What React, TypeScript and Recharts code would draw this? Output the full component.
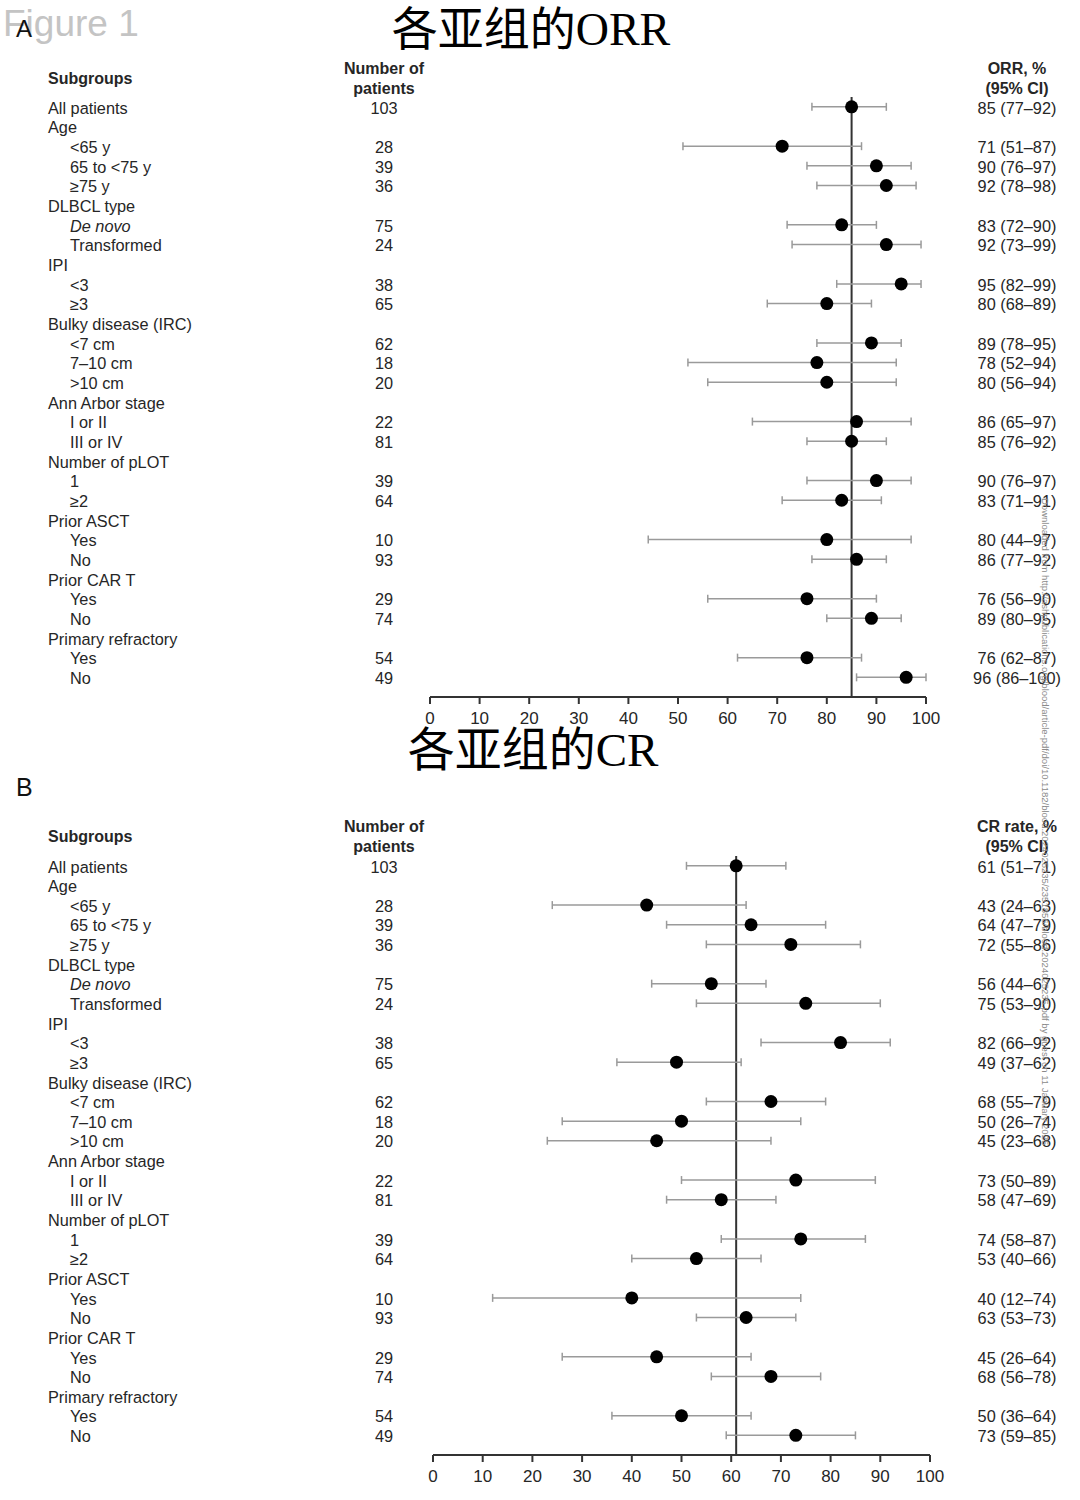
import { ScatterChart, Scatter, XAxis, YAxis, ErrorBar, ReferenceLine } from 'recharts';

// row labels shared by both panels
const rowLabels = [
  'All patients', 'Age', '<65 y', '65 to <75 y', '≥75 y', 'DLBCL type', 'De novo', 'Transformed',
  'IPI', '<3', '≥3', 'Bulky disease (IRC)', '<7 cm', '7–10 cm', '>10 cm', 'Ann Arbor stage',
  'I or II', 'III or IV', 'Number of pLOT', '1', '≥2', 'Prior ASCT', 'Yes', 'No',
  'Prior CAR T', 'Yes', 'No', 'Primary refractory', 'Yes', 'No',
];
const rowIndent = [0, 0, 1, 1, 1, 0, 1, 1, 0, 1, 1, 0, 1, 1, 1, 0, 1, 1, 0, 1, 1, 0, 1, 1, 0, 1, 1, 0, 1, 1];
const patients = [103, null, 28, 39, 36, null, 75, 24, null, 38, 65, null, 62, 18, 20, null, 22, 81, null, 39, 64, null, 10, 93, null, 29, 74, null, 54, 49];

// ORR, %
const orrEst = [85, null, 71, 90, 92, null, 83, 92, null, 95, 80, null, 89, 78, 80, null, 86, 85, null, 90, 83, null, 80, 86, null, 76, 89, null, 76, 96];
const orrLow = [77, null, 51, 76, 78, null, 72, 73, null, 82, 68, null, 78, 52, 56, null, 65, 76, null, 76, 71, null, 44, 77, null, 56, 80, null, 62, 86];
const orrHigh = [92, null, 87, 97, 98, null, 90, 99, null, 99, 89, null, 95, 94, 94, null, 97, 92, null, 97, 91, null, 97, 92, null, 90, 95, null, 87, 100];

// CR rate, %
const crEst = [61, null, 43, 64, 72, null, 56, 75, null, 82, 49, null, 68, 50, 45, null, 73, 58, null, 74, 53, null, 40, 63, null, 45, 68, null, 50, 73];
const crLow = [51, null, 24, 47, 55, null, 44, 53, null, 66, 37, null, 55, 26, 23, null, 50, 47, null, 58, 40, null, 12, 53, null, 26, 56, null, 36, 59];
const crHigh = [71, null, 63, 79, 86, null, 67, 90, null, 92, 62, null, 79, 74, 68, null, 89, 69, null, 87, 66, null, 74, 73, null, 64, 78, null, 64, 85];

const xTicks = [0, 10, 20, 30, 40, 50, 60, 70, 80, 90, 100];
const rowTicks = rowLabels.map((_, i) => i + 1);

const FONT = '"Liberation Sans", Arial, sans-serif';
const INK = '#262626';

function buildPoints(est: (number | null)[], lo: (number | null)[], hi: (number | null)[]) {
  const out: { x: number; row: number; err: number[] }[] = [];
  est.forEach((v, i) => {
    if (v == null) return;
    out.push({ x: v, row: i + 1, err: [v - (lo[i] as number), (hi[i] as number) - v] });
  });
  return out;
}

function makeRowTick(est: (number | null)[], lo: (number | null)[], hi: (number | null)[]) {
  return (props: any) => {
    const i = props.payload.value - 1;
    const y = props.y;
    const label = rowLabels[i];
    return (
      <g fontFamily={FONT} fontSize={16.3} fill={INK}>
        <text x={rowIndent[i] ? 70 : 48} y={y + 1} dy="0.35em" fill={INK}
          fontStyle={label === 'De novo' ? 'italic' : 'normal'}>{label}</text>
        {patients[i] != null && (
          <text x={384} y={y + 1} dy="0.35em" textAnchor="middle" fill={INK}>{patients[i]}</text>
        )}
        {est[i] != null && (
          <text x={1017} y={y + 1} dy="0.35em" textAnchor="middle" fill={INK}>
            {`${est[i]} (${lo[i]}–${hi[i]})`}
          </text>
        )}
      </g>
    );
  };
}

const Dot = (p: any) => <circle cx={p.cx} cy={p.cy} r={6.5} fill="#000" />;

function Forest({ est, lo, hi, refX, top, height, mTop, mBottom, mLeft, rightW }: any) {
  const data = buildPoints(est, lo, hi);
  return (
    <div style={{ position: 'absolute', left: 0, top, width: 1080, height }}>
      <ScatterChart width={1080} height={height} margin={{ top: mTop, right: rightW, bottom: mBottom, left: mLeft }}>
        <XAxis type="number" dataKey="x" domain={[0, 100]} ticks={xTicks} interval={0}
          height={40} tickSize={7} tickMargin={8}
          axisLine={{ stroke: '#333', strokeWidth: 2 }} tickLine={{ stroke: '#333', strokeWidth: 2 }}
          tick={{ fill: INK, fontSize: 17, fontFamily: FONT }} />
        <YAxis type="number" dataKey="row" domain={[0.5, 31]} reversed ticks={rowTicks} interval={0}
          width={430} axisLine={false} tickLine={false} tick={makeRowTick(est, lo, hi)} />
        <ReferenceLine x={refX} stroke="#333" strokeWidth={2} />
        <Scatter data={data} shape={Dot} isAnimationActive={false}>
          <ErrorBar dataKey="err" direction="x" stroke="#9a9a9a" strokeWidth={1.5} width={4} />
        </Scatter>
      </ScatterChart>
    </div>
  );
}

export default function App() {
  return (
    <div style={{ position: 'absolute', left: 0, top: 0, width: 1080, height: 1500, background: '#fff' }}>
      <Forest est={orrEst} lo={orrLow} hi={orrHigh} refX={85} top={0} height={760}
        mTop={97} mBottom={23} mLeft={0} rightW={154} />
      <Forest est={crEst} lo={crLow} hi={crHigh} refX={61} top={780} height={720}
        mTop={76} mBottom={5} mLeft={3} rightW={150} />
      <svg width={1080} height={1500} style={{ position: 'absolute', left: 0, top: 0, pointerEvents: 'none' }}>
        <text x={3} y={36} fontFamily={FONT} fontSize={37} fill="#c4c4c4">Figure 1</text>
        <text x={16} y={37} fontFamily={FONT} fontSize={24} fill="#111">A</text>
        <text x={16} y={796} fontFamily={FONT} fontSize={25} fill="#111">B</text>
        <text x={531} y={45} textAnchor="middle" fontFamily='"Liberation Serif", "Noto Sans CJK SC", serif'
          fontSize={46} fill="#000">各亚组的ORR</text>
        <text x={533} y={766} textAnchor="middle" fontFamily='"Liberation Serif", "Noto Sans CJK SC", serif'
          fontSize={47} fill="#000">各亚组的CR</text>
        <g fontFamily={FONT} fontSize={16} fontWeight="bold" fill={INK}>
          <text x={48} y={84}>Subgroups</text>
          <text x={384} y={74} textAnchor="middle">Number of</text>
          <text x={384} y={94} textAnchor="middle">patients</text>
          <text x={1017} y={74} textAnchor="middle">ORR, %</text>
          <text x={1017} y={94} textAnchor="middle">(95% CI)</text>
          <text x={48} y={842}>Subgroups</text>
          <text x={384} y={832} textAnchor="middle">Number of</text>
          <text x={384} y={852} textAnchor="middle">patients</text>
          <text x={1017} y={832} textAnchor="middle">CR rate, %</text>
          <text x={1017} y={852} textAnchor="middle">(95% CI)</text>
        </g>
        <text x={1042} y={498} transform="rotate(90 1042 498)" fontFamily={FONT} fontSize={9.5} fill="#8a8a8a">
          Downloaded from http://ashpublications.org/blood/article-pdf/doi/10.1182/blood.2024025235/2351856/blood.2024025235.pdf by guest on 11 January 2025
        </text>
      </svg>
    </div>
  );
}
